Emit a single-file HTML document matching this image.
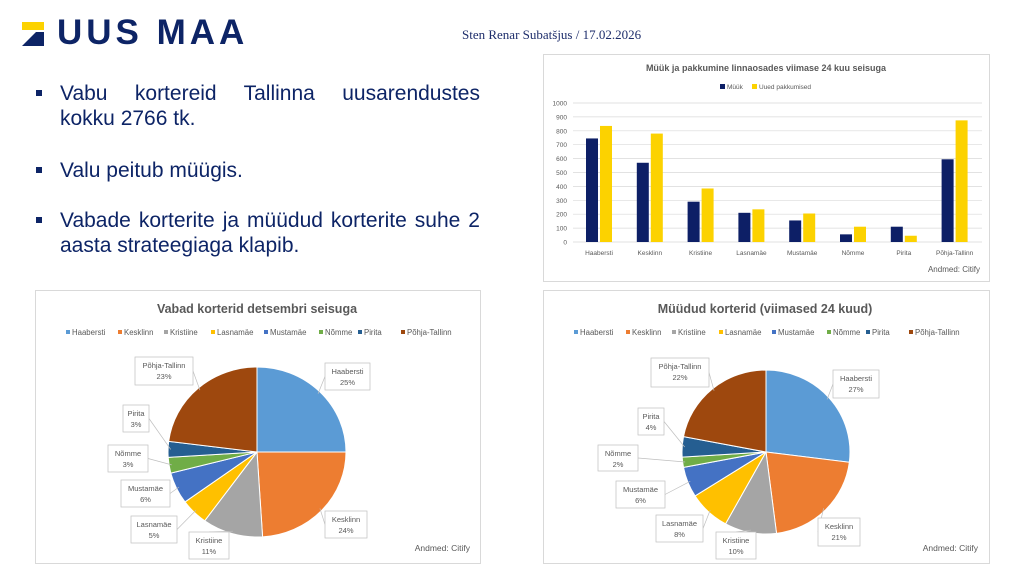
<!DOCTYPE html>
<html><head><meta charset="utf-8"><style>
body{margin:0;width:1024px;height:576px;background:#fff;position:relative;overflow:hidden;font-family:"Liberation Sans",sans-serif}
.logo{position:absolute;left:57px;top:13px;font:bold 35px "Liberation Sans",sans-serif;color:#0d2466;letter-spacing:4px}
.auth{position:absolute;left:462px;top:27px;font:13px "Liberation Serif",serif;color:#1d2d6b}
.bul{position:absolute;left:60px;width:420px;font-size:21px;color:#0d2466;line-height:25px}
.bul div{text-align:justify;text-align-last:justify}
.bul div.l{text-align-last:left}
.bul:before{content:"";position:absolute;left:-24px;top:9px;width:6px;height:6px;background:#0d2466}
.box{position:absolute;border:1px solid #d9d9d9;background:#fff}
</style></head><body>
<svg style="position:absolute;left:22px;top:22px" width="30" height="24"><polygon points="0,0 22,0 22,8 0,8" fill="#fcd200"/><polygon points="0,24 14,10 22,10 22,24" fill="#0d2466"/></svg>
<div class="logo">UUS MAA</div>
<div class="auth">Sten Renar Subatšjus / 17.02.2026</div>
<div class="bul" style="top:81px"><div>Vabu kortereid Tallinna uusarendustes</div><div class="l">kokku 2766 tk.</div></div>
<div class="bul" style="top:158px"><div class="l">Valu peitub müügis.</div></div>
<div class="bul" style="top:208px"><div>Vabade korterite ja müüdud korterite suhe 2</div><div class="l">aasta strateegiaga klapib.</div></div>
<div class="box" style="left:543px;top:54px;width:445px;height:226px"></div>
<div class="box" style="left:35px;top:290px;width:444px;height:272px"></div>
<div class="box" style="left:543px;top:290px;width:445px;height:272px"></div>
<svg id="s" style="position:absolute;left:0;top:0" width="1024" height="576" font-family="Liberation Sans, sans-serif"></svg>
<script>
const s=document.getElementById('s');let h='';
const t=(x,y,txt,sz,col,anc,w)=>h+=`<text x="${x}" y="${y}" font-size="${sz}" fill="${col}" text-anchor="${anc||'start'}" ${w?'font-weight="bold"':''}>${txt}</text>`;
t(766,71,'Müük ja pakkumine linnaosades viimase 24 kuu seisuga',9,'#595959','middle',1);
h+=`<rect x="720" y="84" width="5" height="5" fill="#0d1f66"/><rect x="752" y="84" width="5" height="5" fill="#fcd200"/>`;
t(727,89,'Müük',6.5,'#595959');t(759,89,'Uued pakkumised',6.5,'#595959');
for(let i=0;i<=10;i++){let y=242-i*13.9;h+=`<line x1="573" x2="982" y1="${y}" y2="${y}" stroke="#d9d9d9" stroke-width="0.7"/>`;t(567,y+2.5,i*100,6.5,'#595959','end');}
const cats=['Haabersti','Kesklinn','Kristiine','Lasnamäe','Mustamäe','Nõmme','Pirita','Põhja-Tallinn'];
const m=[745,570,290,210,155,55,110,595],u=[835,780,385,235,205,110,45,875];
cats.forEach((c,i)=>{let cx=599+i*50.8;
h+=`<rect x="${cx-13}" y="${242-m[i]*0.139}" width="12" height="${m[i]*0.139}" fill="#0d1f66"/>`;
h+=`<rect x="${cx+1}" y="${242-u[i]*0.139}" width="12" height="${u[i]*0.139}" fill="#fcd200"/>`;
t(cx,255,c,6.5,'#595959','middle');});
t(980,272,'Andmed: Citify',8,'#595959','end');
const cols=['#5b9bd5','#ed7d31','#a5a5a5','#ffc000','#4472c4','#70ad47','#255e91','#9e480e'];
const lo=[31,83,129,176,229,284,323,366];
function pie(ox,cx,cy,rx,ry,vals,title,labs){
 t(ox+222,313,title,12.5,'#595959','middle',1);
 cats.forEach((c,i)=>{let lx=ox+lo[i];h+=`<rect x="${lx}" y="330" width="4" height="4" fill="${cols[i]}"/>`;t(lx+6,335,c,7.8,'#595959');});
 let a=0;vals.forEach((v,i)=>{let a1=a+v/100*2*Math.PI;
  let p=(an)=>[cx+rx*Math.sin(an),cy-ry*Math.cos(an)];let [x0,y0]=p(a),[x1,y1]=p(a1);
  h+=`<path d="M${cx},${cy}L${x0},${y0}A${rx},${ry} 0 ${v>50?1:0} 1 ${x1},${y1}Z" fill="${cols[i]}" stroke="#fff" stroke-width="1"/>`;
  let [bx,by,bw,bhh]=labs[i];let m=(a+a1)/2;let [ex,ey]=[cx+rx*0.97*Math.sin(m),cy-ry*0.97*Math.cos(m)];
  let ax=bx+bw/2<cx?bx+bw:bx;let ay=by+bhh/2; if(i==2){ax=bx+bw/2;ay=by;}
  h+=`<line x1="${ex}" y1="${ey}" x2="${ax}" y2="${ay}" stroke="#bfbfbf" stroke-width="0.7"/>`;
  h+=`<rect x="${bx}" y="${by}" width="${bw}" height="${bhh}" fill="#fff" stroke="#bfbfbf" stroke-width="0.7"/>`;
  t(bx+bw/2,by+11,cats[i],7.5,'#595959','middle');t(bx+bw/2,by+22,v+'%',7.5,'#595959','middle');
  a=a1;});
 t(ox+435,551,'Andmed: Citify',8.5,'#595959','end');
}
pie(35,257,452,89,85,[25,24,11,5,6,3,3,23],'Vabad korterid detsembri seisuga',
[[325,363,45,27],[325,511,42,27],[189,532,40,27],[131,516,46,27],[121,480,49,27],[108,445,40,27],[123,405,26,27],[135,357,58,28]]);
pie(543,766,452,84,82,[27,21,10,8,6,2,4,22],'Müüdud korterid (viimased 24 kuud)',
[[833,370,46,28],[818,518,42,28],[716,532,40,27],[656,515,47,27],[616,481,49,27],[598,445,40,26],[638,408,26,27],[651,358,58,29]]);
s.innerHTML=h;
</script>
</body></html>
